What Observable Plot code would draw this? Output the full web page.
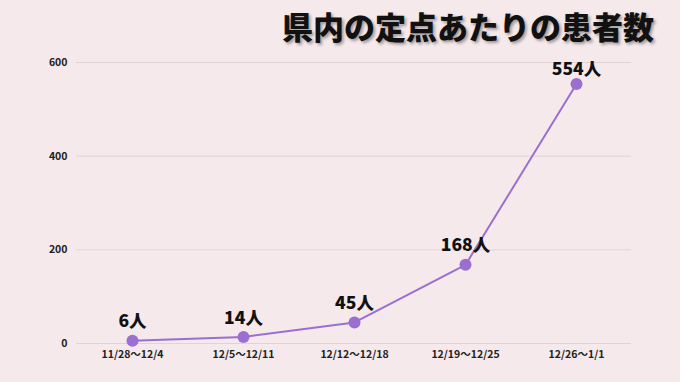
<!DOCTYPE html>
<html><head><meta charset="utf-8">
<script src="https://cdn.jsdelivr.net/npm/d3@7"></script>
<script src="https://cdn.jsdelivr.net/npm/@observablehq/plot@0.6"></script>
<style>
html,body{margin:0;padding:0;background:#f5e9eb;}
#wrap{width:680px;height:382px;position:relative;overflow:hidden;background:#f5e9eb;font-family:"Noto Sans CJK JP","Noto Sans",sans-serif;}
#title{height:52px;box-sizing:border-box;text-align:right;padding-right:26px;padding-top:8px;font-size:31px;font-weight:900;line-height:36px;color:#111;text-shadow:2px 2px 3px rgba(0,0,0,0.35);letter-spacing:0px;}
</style></head><body>
<div id="wrap"><div id="title">県内の定点あたりの患者数</div><div id="chart"></div></div>
<script>
const weeks = ["11/28〜12/4","12/5〜12/11","12/12〜12/18","12/19〜12/25","12/26〜1/1"];
const patients = [6, 14, 45, 168, 554];
const yTicks = [0, 200, 400, 600];
const data = weeks.map((w,i)=>({week:w, value:patients[i], label:patients[i]+"人"}));
const lastWeek = weeks[weeks.length-1];
const color = "#9a6fd0";
const chart = Plot.plot({
  width:680, height:330,
  marginTop:10, marginBottom:39, marginLeft:76, marginRight:49,
  style:{background:"transparent", fontFamily:'"Noto Sans CJK JP","Noto Sans",sans-serif', overflow:"visible"},
  x:{type:"point", domain:weeks, padding:0.5, label:null, tickSize:0, tickPadding:7},
  y:{domain:[0,600], ticks:yTicks, label:null, tickSize:0, tickPadding:9},
  marks:[
    Plot.ruleY(yTicks,{stroke:"#e2d2d6", strokeWidth:1}),
    Plot.axisX({tickSize:0, tickPadding:7, fontSize:10.5, fontWeight:700, fill:"#222", label:null}),
    Plot.axisY({ticks:yTicks, tickSize:0, tickPadding:9, fontSize:10.5, fontWeight:700, fill:"#222", label:null}),
    Plot.line(data,{x:"week", y:"value", stroke:color, strokeWidth:2}),
    Plot.dot(data,{x:"week", y:"value", r:6, fill:color}),
    Plot.text(data.filter(d=>d.week!==lastWeek),{x:"week", y:"value", text:"label", dy:-19, fontSize:17.5, fontWeight:900, fill:"#111"}),
    Plot.text(data.filter(d=>d.week===lastWeek),{x:"week", y:"value", text:"label", dy:-15, fontSize:17.5, fontWeight:900, fill:"#111"})
  ]
});
document.getElementById("chart").appendChild(chart);
</script>
</body></html>
